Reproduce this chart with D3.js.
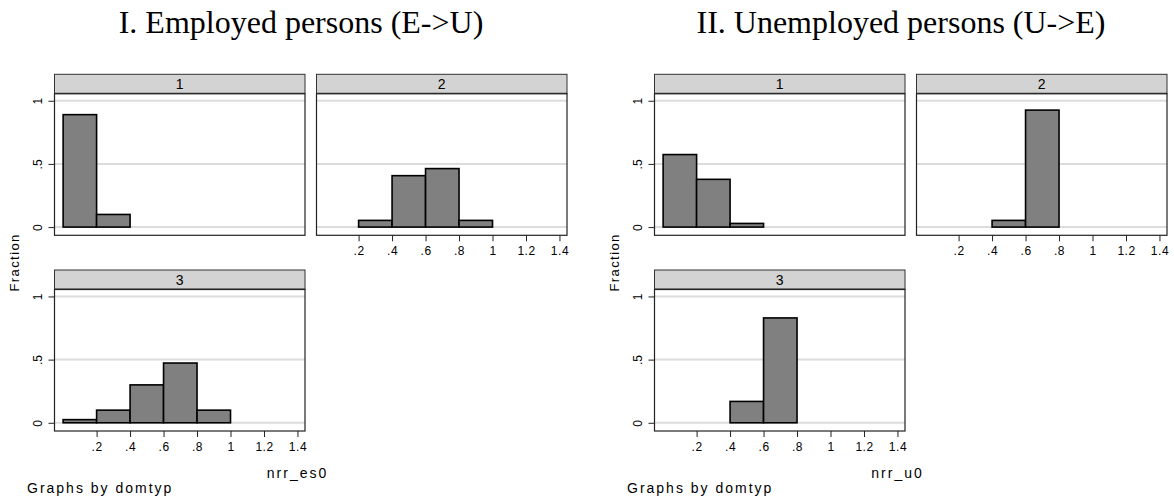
<!DOCTYPE html>
<html>

<head>
    <meta charset="utf-8">
    <title>nrr histograms by domtyp</title>
    <style>
        body {
            margin: 0;
            background: #fff;
        }

        .title {
            font-family: 'Liberation Serif', 'Times New Roman', serif;
            font-size: 32px;
            fill: #000;
        }

        .tick text,
        .lbl {
            font-family: 'Liberation Sans', Arial, sans-serif;
            fill: #000;
        }
    </style>
    <script src="https://cdnjs.cloudflare.com/ajax/libs/d3/7.8.5/d3.min.js"></script>
</head>

<body>
    <div id="chart"></div>
    <script>
        // bins shared by every panel (width .2)
        const binEdges = [0, 0.2, 0.4, 0.6, 0.8, 1.0];
        const domtyp = ["1", "2", "3"];

        // I. employed persons, fraction per bin
        const empDom1 = [0.89, 0.10, 0, 0, 0];
        const empDom2 = [0, 0.053, 0.407, 0.463, 0.053];
        const empDom3 = [0.025, 0.10, 0.30, 0.473, 0.10];

        // II. unemployed persons
        const unempDom1 = [0.574, 0.378, 0.029, 0, 0];
        const unempDom2 = [0, 0, 0.053, 0.926, 0];
        const unempDom3 = [0, 0, 0.169, 0.83, 0];

        const xTicks = [0.2, 0.4, 0.6, 0.8, 1, 1.2, 1.4];
        const xTickLabels = [".2", ".4", ".6", ".8", "1", "1.2", "1.4"];
        const yTicks = [0, 0.5, 1];
        const yTickLabels = ["0", ".5", "1"];

        const graphs = [
            { title: "I. Employed persons (E->U)", xtitle: "nrr_es0", panels: [empDom1, empDom2, empDom3] },
            { title: "II. Unemployed persons (U->E)", xtitle: "nrr_u0", panels: [unempDom1, unempDom2, unempDom3] }
        ];

        const W = 1174, H = 499;
        const svg = d3.select('#chart')
            .append('svg')
            .attr('width', W)
            .attr('height', H);

        // layout of one by() graph
        const colX = [54.5, 316.5];
        const rowY = [74.3, 270];
        const panelW = 250.5, headH = 19.5, plotH = 141.5;

        const x = d3.scaleLinear().domain([-0.0515, 1.445]).range([0, panelW]);
        const y = d3.scaleLinear().domain([-0.065, 1.055]).range([plotH, 0]);

        graphs.forEach((gr, gi) => {
            const ox = gi * 600;
            const g = svg.append('g').attr('transform', `translate(${ox},0)`);

            g.append('text')
                .attr('class', 'title')
                .attr('x', 301)
                .attr('y', 33)
                .attr('text-anchor', 'middle')
                .text(gr.title);

            gr.panels.forEach((vals, i) => {
                const col = i % 2, row = Math.floor(i / 2);
                const p = g.append('g')
                    .attr('transform', `translate(${colX[col]},${rowY[row]})`);

                // strip header
                p.append('rect')
                    .attr('x', 0).attr('y', 0)
                    .attr('width', panelW).attr('height', headH)
                    .attr('fill', '#d3d3d3')
                    .attr('stroke', '#333')
                    .attr('stroke-width', 1);
                p.append('line')
                    .attr('x1', 0).attr('x2', panelW)
                    .attr('y1', headH).attr('y2', headH)
                    .attr('stroke', '#333').attr('stroke-width', 2);
                p.append('text')
                    .attr('class', 'lbl')
                    .attr('x', panelW / 2)
                    .attr('y', headH / 2)
                    .attr('dy', '0.36em')
                    .attr('text-anchor', 'middle')
                    .style('font-size', '14px')
                    .text(domtyp[i]);

                const plot = p.append('g').attr('transform', `translate(0,${headH})`);

                plot.append('rect')
                    .attr('width', panelW).attr('height', plotH)
                    .attr('fill', '#fff');

                plot.selectAll('line.grid')
                    .data(yTicks)
                    .join('line')
                    .attr('class', 'grid')
                    .attr('x1', 0).attr('x2', panelW)
                    .attr('y1', d => y(d)).attr('y2', d => y(d))
                    .attr('stroke', '#dcdcdc')
                    .attr('stroke-width', 2);

                const bins = vals.map((v, k) => ({ x0: binEdges[k], x1: binEdges[k + 1], v }))
                    .filter(d => d.v > 0);

                plot.selectAll('rect.bar')
                    .data(bins)
                    .join('rect')
                    .attr('class', 'bar')
                    .attr('x', d => x(d.x0))
                    .attr('y', d => y(d.v))
                    .attr('width', d => x(d.x1) - x(d.x0))
                    .attr('height', d => y(0) - y(d.v))
                    .attr('fill', '#808080')
                    .attr('stroke', '#000')
                    .attr('stroke-width', 1.6);

                plot.append('rect')
                    .attr('width', panelW).attr('height', plotH)
                    .attr('fill', 'none')
                    .attr('stroke', '#222')
                    .attr('stroke-width', 1.2);

                // y axis on the left column
                if (col === 0) {
                    const ya = plot.append('g')
                        .call(d3.axisLeft(y).tickValues(yTicks)
                            .tickFormat((d, k) => yTickLabels[k]).tickSize(6));
                    ya.select('.domain').remove();
                    ya.selectAll('.tick line').attr('stroke', '#222');
                    ya.selectAll('text')
                        .attr('transform', 'rotate(-90)')
                        .attr('x', 0)
                        .attr('y', -12.5)
                        .attr('dy', 0)
                        .style('text-anchor', 'middle')
                        .style('font-size', '12px');
                }

                // x axis under the lowest panel of each column
                if (i === 1 || i === 2) {
                    const xa = plot.append('g')
                        .attr('transform', `translate(0,${plotH})`)
                        .call(d3.axisBottom(x).tickValues(xTicks)
                            .tickFormat((d, k) => xTickLabels[k]).tickSize(6).tickPadding(5));
                    xa.select('.domain').remove();
                    xa.selectAll('.tick line').attr('stroke', '#222');
                    xa.selectAll('text')
                        .style('font-size', '12px')
                        .style('letter-spacing', '0.5px');
                }
            });

            g.append('text')
                .attr('class', 'lbl')
                .attr('transform', `translate(14,${(rowY[0] + headH + rowY[1] + headH + plotH) / 2}) rotate(-90)`)
                .attr('text-anchor', 'middle')
                .attr('dy', '0.35em')
                .style('font-size', '13px')
                .style('letter-spacing', '1.4px')
                .text('Fraction');

            g.append('text')
                .attr('class', 'lbl')
                .attr('x', 297.5)
                .attr('y', 478)
                .attr('text-anchor', 'middle')
                .style('font-size', '14px')
                .style('letter-spacing', '2px')
                .text(gr.xtitle);

            g.append('text')
                .attr('class', 'lbl')
                .attr('x', 27)
                .attr('y', 493)
                .style('font-size', '14px')
                .style('letter-spacing', '2px')
                .text('Graphs by domtyp');
        });
    </script>
</body>

</html>
